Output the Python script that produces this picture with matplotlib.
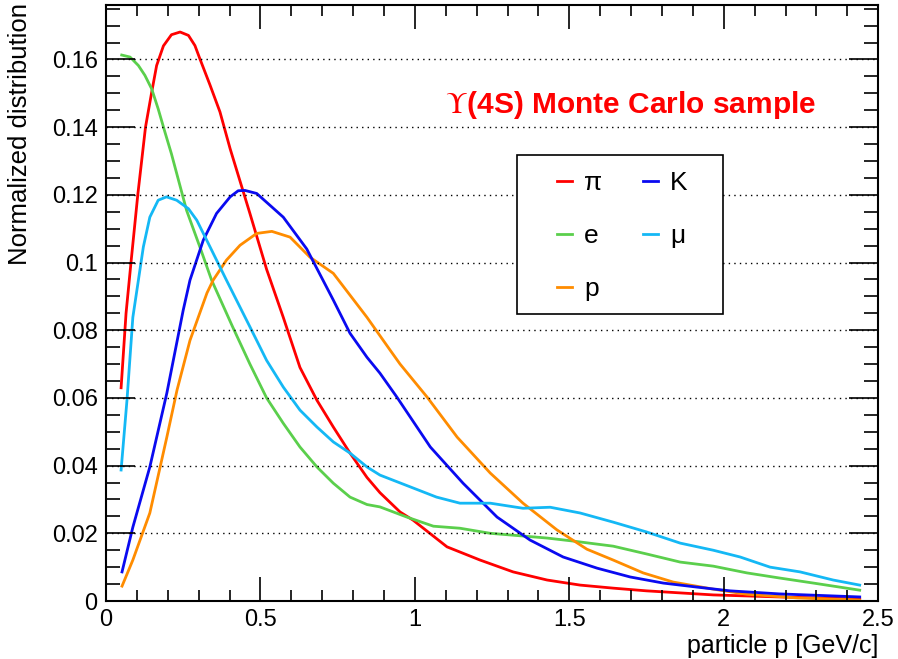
import numpy as np
import matplotlib.pyplot as plt
from matplotlib.patches import Rectangle
from matplotlib.ticker import MultipleLocator

plt.rcParams['font.family'] = ['Liberation Sans', 'DejaVu Sans']
plt.rcParams['mathtext.fontset'] = 'stix'

# momentum distributions (x in GeV/c, y normalized)
pi_x = [0.049, 0.065, 0.081, 0.103, 0.128, 0.148, 0.164, 0.186, 0.212, 0.24, 0.267, 0.288, 0.304,
        0.337, 0.369, 0.402, 0.466, 0.52, 0.574, 0.628, 0.683, 0.736, 0.79, 0.845, 0.887, 0.952,
        0.994, 1.104, 1.211, 1.318, 1.428, 1.535, 1.642, 1.75, 1.966, 2.18, 2.44]
pi_y = [0.063, 0.085, 0.100, 0.120, 0.140, 0.1503, 0.1582, 0.164, 0.1673, 0.1681, 0.1671,
        0.1641, 0.1602, 0.1524, 0.1445, 0.1336, 0.1145, 0.098, 0.0838, 0.069, 0.0593, 0.0514,
        0.0437, 0.0365, 0.032, 0.0263, 0.0239, 0.016, 0.0121, 0.0086, 0.0062, 0.0047, 0.0038,
        0.003, 0.0018, 0.0012, 0.0006]

e_x = [0.051, 0.078, 0.105, 0.126, 0.148, 0.169, 0.191, 0.212, 0.261, 0.304, 0.342, 0.41, 0.466,
       0.52, 0.574, 0.628, 0.683, 0.736, 0.79, 0.845, 0.887, 0.974, 1.06, 1.146, 1.244, 1.35,
       1.428, 1.513, 1.642, 1.75, 1.859, 1.966, 2.075, 2.18, 2.29, 2.44]
e_y = [0.1613, 0.1607, 0.1582, 0.1553, 0.1513, 0.1454, 0.1385, 0.1321, 0.1154, 0.1046, 0.0948,
       0.081, 0.070, 0.060, 0.0525, 0.0455, 0.0396, 0.0348, 0.0307, 0.0285, 0.0278, 0.0248,
       0.0221, 0.0215, 0.020, 0.0192, 0.0186, 0.0177, 0.0162, 0.0139, 0.0115, 0.0103, 0.0083,
       0.0068, 0.0053, 0.0032]

p_x = [0.052, 0.087, 0.142, 0.197, 0.23, 0.272, 0.327, 0.347, 0.39, 0.434, 0.488, 0.537, 0.596,
       0.66, 0.736, 0.845, 0.92, 0.952, 1.04, 1.137, 1.244, 1.35, 1.46, 1.557, 1.642, 1.739,
       1.836, 1.966, 2.075, 2.24, 2.44]
p_y = [0.0044, 0.0121, 0.026, 0.0484, 0.0623, 0.077, 0.091, 0.0948, 0.1007, 0.1051, 0.1086,
       0.1092, 0.1075, 0.1016, 0.0968, 0.0838, 0.0741, 0.070, 0.0602, 0.0484, 0.0378, 0.0289,
       0.021, 0.0153, 0.0121, 0.0083, 0.0056, 0.0035, 0.002, 0.0009, 0.0003]

k_x = [0.052, 0.087, 0.142, 0.197, 0.25, 0.272, 0.315, 0.358, 0.402, 0.428, 0.45, 0.488, 0.574,
       0.65, 0.736, 0.79, 0.845, 0.887, 0.942, 1.05, 1.156, 1.266, 1.373, 1.48, 1.59, 1.697,
       1.804, 1.914, 2.02, 2.18, 2.44]
k_y = [0.0086, 0.0218, 0.0396, 0.0614, 0.0859, 0.0948, 0.1066, 0.1145, 0.1194, 0.1212, 0.1213,
       0.1204, 0.1134, 0.1040, 0.0889, 0.0791, 0.072, 0.0673, 0.0602, 0.0455, 0.0348, 0.0248,
       0.018, 0.013, 0.0097, 0.0071, 0.0053, 0.0041, 0.003, 0.0021, 0.0012]

mu_x = [0.049, 0.068, 0.087, 0.105, 0.121, 0.142, 0.169, 0.196, 0.229, 0.267, 0.294, 0.337, 0.39,
        0.466, 0.52, 0.574, 0.628, 0.683, 0.736, 0.79, 0.845, 0.887, 0.994, 1.07, 1.146, 1.244,
        1.35, 1.438, 1.535, 1.642, 1.75, 1.859, 1.966, 2.053, 2.15, 2.247, 2.354, 2.44]
mu_y = [0.0387, 0.0593, 0.0838, 0.0948, 0.1046, 0.1134, 0.1184, 0.1194, 0.1184, 0.1159, 0.1125,
        0.1046, 0.0948, 0.081, 0.0711, 0.0632, 0.0564, 0.0514, 0.047, 0.0437, 0.0396, 0.0372,
        0.0334, 0.0307, 0.0289, 0.0289, 0.0274, 0.0277, 0.026, 0.0233, 0.0204, 0.0171, 0.015,
        0.013, 0.0100, 0.0086, 0.0062, 0.0047]

fig = plt.figure(figsize=(8.98, 6.59), dpi=100)
ax = fig.add_axes([0.118, 0.088, 0.86, 0.904])

lw = 2.0
h_pi, = ax.plot(pi_x, pi_y, color='#ff0000', lw=lw, label='π')
h_e, = ax.plot(e_x, e_y, color='#5bcf4c', lw=lw, label='e')
h_p, = ax.plot(p_x, p_y, color='#ff8c00', lw=lw, label='p')
h_k, = ax.plot(k_x, k_y, color='#0a0af0', lw=lw, label='K')
h_mu, = ax.plot(mu_x, mu_y, color='#14b8f5', lw=lw, label='μ')

ax.set_xlim(0, 2.5)
ax.set_ylim(0, 0.176)
ax.set_xticks([0, 0.5, 1, 1.5, 2, 2.5])
ax.set_xticklabels(['0', '0.5', '1', '1.5', '2', '2.5'])
ax.xaxis.set_minor_locator(MultipleLocator(0.1))
ax.set_yticks(np.arange(0, 0.17, 0.02))
ax.set_yticklabels(['0', '0.02', '0.04', '0.06', '0.08', '0.1', '0.12', '0.14', '0.16'])
ax.yaxis.set_minor_locator(MultipleLocator(0.005))

ax.tick_params(which='both', direction='in', top=True, right=True, labelsize=17, width=1.2)
ax.tick_params(axis='x', which='major', length=17, pad=6)
ax.tick_params(axis='x', which='minor', length=8)
ax.tick_params(axis='y', which='major', length=21, pad=6)
ax.tick_params(axis='y', which='minor', length=10)
for s in ax.spines.values():
    s.set_linewidth(1.5)

ax.yaxis.grid(True, which='major', color='black', linestyle=(0, (1, 3)), linewidth=1.0)
ax.set_axisbelow(False)

ax.set_xlabel('particle p [GeV/c]', fontsize=18, loc='right')
ax.xaxis.set_label_coords(1.0, -0.055)
ax.set_ylabel('Normalized distribution', fontsize=18.5, loc='top')
ax.yaxis.set_label_coords(-0.096, 1.003)

ax.text(0.439, 0.832, r'$\Upsilon$(4S) Monte Carlo sample', transform=ax.transAxes,
        color='#ff0000', fontsize=21.5, fontweight='bold', ha='left', va='center')

# legend box drawn separately so its padding can match the reference
ax.add_patch(Rectangle((0.532, 0.4815), 0.2668, 0.2668, transform=ax.transAxes,
                       fill=True, facecolor='white', edgecolor='black', lw=1.2, zorder=4))
leg = ax.legend(handles=[h_pi, h_e, h_p, h_k, h_mu], ncol=2, loc='upper left',
                bbox_to_anchor=(0.584, 0.721), fontsize=19, frameon=False,
                handlelength=0.57, handletextpad=0.45, columnspacing=1.55, labelspacing=1.09,
                borderpad=0, borderaxespad=0)
leg.set_zorder(5)
for line in leg.get_lines():
    line.set_linewidth(2.0)

plt.savefig('out.png', dpi=100)
